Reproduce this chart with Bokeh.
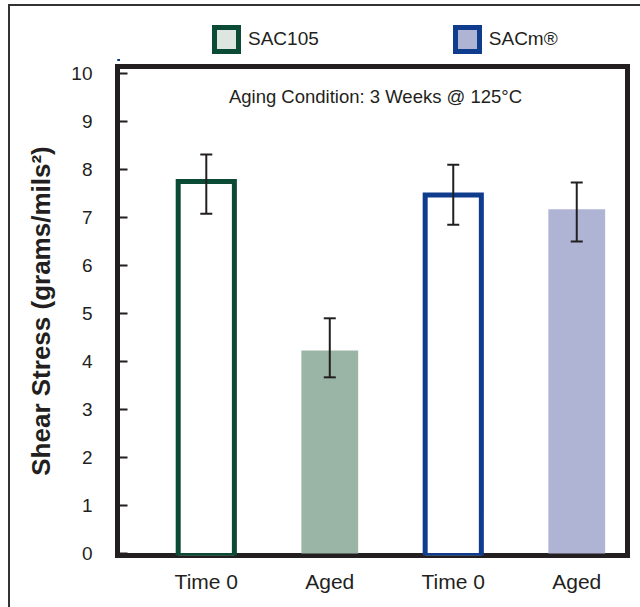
from bokeh.plotting import figure
from bokeh.layouts import column
from bokeh.models import (Whisker, ColumnDataSource, Legend, LegendItem, Label,
                          FixedTicker, Range1d, TeeHead)
from bokeh.embed import file_html
from bokeh.resources import INLINE

# ---- data ----
categories = ["Time 0", "Aged", "Time 0", "Aged"]
alloys = ["SAC105", "SAC105", "SACm", "SACm"]
shear = [7.75, 4.23, 7.47, 7.17]
err_upper = [8.31, 4.90, 8.10, 7.73]
err_lower = [7.08, 3.67, 6.85, 6.50]
y_ticks = [0, 1, 2, 3, 4, 5, 6, 7, 8, 9, 10]
legend_labels = ["SAC105", "SACm®"]

xpos = list(range(1, len(categories) + 1))

# ---- styles ----
DKGREEN = "#0B4A34"
GREENFILL = "#9AB5A6"
SWATCH_GREEN = "#DDE6E1"
BLUE = "#0F3C8C"
BLUEFILL = "#B0B4D4"
INK = "#231F20"
FONT = "Liberation Sans"

Y0, Y1 = -0.042, 10.146

# ---- legend strip (its frame is aligned with the main frame by the layout) ----
lf = figure(width=630, height=55, output_backend="svg", toolbar_location=None,
            x_range=Range1d(0, 1), y_range=Range1d(0, 1),
            x_axis_type=None, y_axis_type=None,
            min_border_left=0, min_border_right=0, min_border_top=0,
            min_border_bottom=0)
lf.grid.visible = False
lf.outline_line_color = None
lf.background_fill_color = "white"
lf.border_fill_color = "white"
# swatch-only renderers, kept outside the visible range of the strip
r1 = lf.vbar(x=[-5], top=[-5], bottom=[-6], width=0.1, fill_color=SWATCH_GREEN,
             line_color=DKGREEN, line_width=5, line_join="miter")
r2 = lf.vbar(x=[-5], top=[-5], bottom=[-6], width=0.1, fill_color=BLUEFILL,
             line_color=BLUE, line_width=5, line_join="miter")
leg = Legend(items=[LegendItem(label=legend_labels[0], renderers=[r1]),
                    LegendItem(label=legend_labels[1], renderers=[r2])],
             location=(94, 7.5), orientation="horizontal",
             padding=0, margin=0, spacing=133,
             glyph_width=30, glyph_height=30, label_standoff=7,
             label_text_font=FONT, label_text_font_size="19px",
             label_text_color=INK, label_text_baseline="middle",
             background_fill_alpha=0, border_line_alpha=0)
lf.add_layout(leg, "center")

# ---- main chart ----
p = figure(width=630, height=546, output_backend="svg", toolbar_location=None,
           x_range=Range1d(0.281, 4.411), y_range=Range1d(Y0, Y1),
           min_border_left=107, min_border_right=13, min_border_top=5,
           min_border_bottom=52)
p.grid.visible = False
p.outline_line_color = INK
p.outline_line_width = 5
p.outline_line_join = "miter"
p.background_fill_color = "white"
p.border_fill_color = "white"

outline_idx = [i for i, c in enumerate(categories) if c == "Time 0"]
filled_idx = [i for i, c in enumerate(categories) if c == "Aged"]
color_map = {"SAC105": (DKGREEN, GREENFILL), "SACm": (BLUE, BLUEFILL)}

src_out = ColumnDataSource(dict(
    x=[xpos[i] for i in outline_idx],
    top=[shear[i] for i in outline_idx],
    color=[color_map[alloys[i]][0] for i in outline_idx]))
src_fill = ColumnDataSource(dict(
    x=[xpos[i] for i in filled_idx],
    top=[shear[i] for i in filled_idx],
    color=[color_map[alloys[i]][1] for i in filled_idx]))

p.vbar(x="x", top="top", bottom=Y0 - 0.3, width=0.455, source=src_out,
       fill_color="white", line_color="color", line_width=5, line_join="miter")
p.vbar(x="x", top="top", bottom=0, width=0.46, source=src_fill,
       fill_color="color", line_color=None)

src_err = ColumnDataSource(dict(x=xpos, upper=err_upper, lower=err_lower))
p.add_layout(Whisker(source=src_err, base="x", upper="upper", lower="lower",
                     level="overlay", line_color=INK, line_width=2,
                     upper_head=TeeHead(size=12, line_color=INK, line_width=2),
                     lower_head=TeeHead(size=12, line_color=INK, line_width=2)))

p.yaxis.ticker = FixedTicker(ticks=y_ticks)
p.yaxis.axis_line_color = None
p.yaxis.major_tick_in = 10
p.yaxis.major_tick_out = 0
p.yaxis.major_tick_line_color = INK
p.yaxis.major_tick_line_width = 2
p.yaxis.minor_tick_line_color = None
p.yaxis.major_label_standoff = 25
p.yaxis.major_label_text_font = FONT
p.yaxis.major_label_text_font_size = "19px"
p.yaxis.major_label_text_color = INK
p.yaxis.axis_label = "Shear Stress (grams/mils²)"
p.yaxis.axis_label_text_font = FONT
p.yaxis.axis_label_text_font_style = "bold"
p.yaxis.axis_label_text_font_size = "26px"
p.yaxis.axis_label_text_color = INK
p.yaxis.axis_label_standoff = 12

p.xaxis.ticker = FixedTicker(ticks=xpos)
p.xaxis.major_label_overrides = {x: c for x, c in zip(xpos, categories)}
p.xaxis.axis_line_color = None
p.xaxis.major_tick_line_color = None
p.xaxis.minor_tick_line_color = None
p.xaxis.major_label_standoff = 8
p.xaxis.major_label_text_font = FONT
p.xaxis.major_label_text_font_size = "21px"
p.xaxis.major_label_text_color = INK

p.add_layout(Label(x=258, y=459, x_units="screen", y_units="screen",
                   text="Aging Condition: 3 Weeks @ 125°C", text_align="center",
                   text_baseline="middle", text_font=FONT, text_font_size="18.5px",
                   text_color=INK))

layout = column(lf, p, spacing=0,
                styles={"margin-left": "8px", "margin-top": "4px",
                        "border-left": "2px solid #333333",
                        "border-top": "2px solid #333333"})

open("out.html", "w").write(file_html(layout, INLINE))
